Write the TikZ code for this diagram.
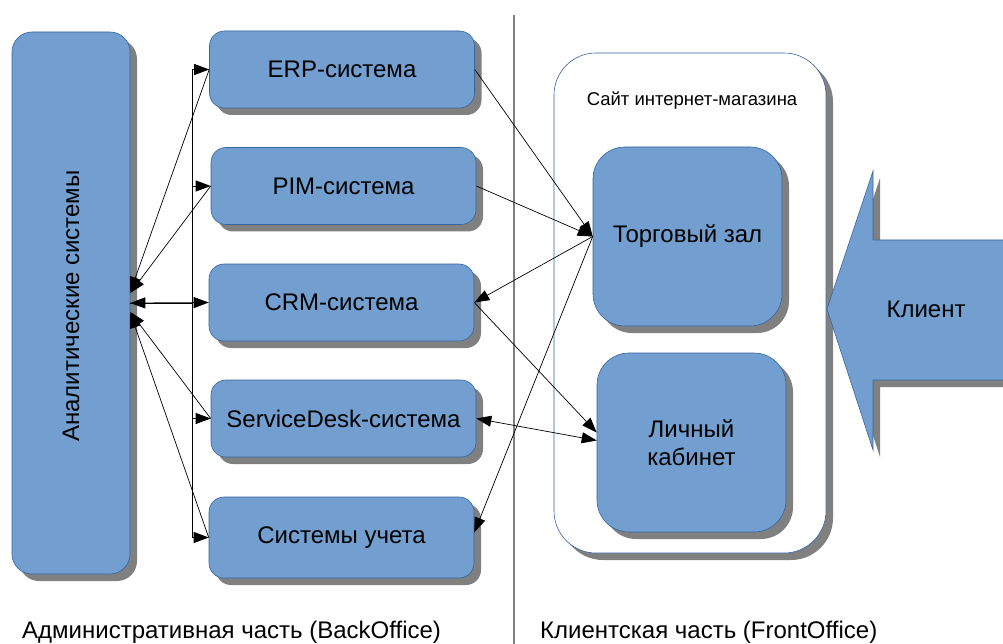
\documentclass[tikz,border=0pt]{standalone}
\usepackage{fontspec}
\setmainfont{Liberation Sans}
\usetikzlibrary{arrows.meta,shadows,calc}

\definecolor{boxblue}{HTML}{729FCF}
\definecolor{boxedge}{HTML}{3465A4}
\definecolor{shadowgray}{HTML}{808080}
\definecolor{dividergray}{HTML}{7F7F7F}

\tikzset{
  shade7/.style={drop shadow={shadow xshift=7pt, shadow yshift=-7pt, opacity=1, fill=shadowgray}},
  bigtext/.style={font=\fontsize{24}{28}\selectfont, text=black},
  sysbox/.style={draw=boxedge, line width=0.6pt, fill=boxblue, shade7,
    rounded corners=15pt, minimum width=265pt, minimum height=77pt,
    inner sep=0pt, align=center, bigtext},
  roombox/.style={sysbox, rounded corners=32pt, minimum width=189pt, minimum height=179pt},
  link/.style={draw=black, line width=0.7pt, -{Triangle[length=15pt,width=11pt]}},
  twoway/.style={draw=black, line width=0.7pt, {Triangle[length=15pt,width=11pt]}-{Triangle[length=15pt,width=11pt]}},
  plain/.style={draw=black, line width=0.7pt},
}

\begin{document}
\begin{tikzpicture}[x=1pt, y=-1pt]
  \useasboundingbox (0,0) rectangle (1003,644);
  \clip (0,0) rectangle (1003,644);
  \fill[white] (0,0) rectangle (1003,644);

  % divider between the two parts
  \draw[dividergray, line width=1.4pt] (514,15) -- (514,644);

  % back office
  \node[sysbox, rounded corners=20pt, minimum width=118pt, minimum height=542pt] (an) at (71,303) {};
  \node[bigtext, rotate=90] (antext) at (71,306) {Аналитические системы};

  \node[sysbox] (erp) at (342,69.5)   {ERP-система};
  \node[sysbox] (pim) at (343.5,186)  {PIM-система};
  \node[sysbox] (crm) at (341.5,302.5){CRM-система};
  \node[sysbox] (sd)  at (343.5,418.5){ServiceDesk-система};
  \node[sysbox, minimum height=81pt] (uch) at (341.5,537.5){Системы учета};

  % front office: web shop container
  \node[draw=boxedge, line width=0.6pt, fill=white, shade7, rounded corners=42pt,
        minimum width=272pt, minimum height=500pt, inner sep=0pt] (site) at (690,303) {};
  \node[font=\fontsize{18.5}{21}\selectfont] (sitelabel) at (692,101) {Сайт интернет-магазина};
  \node[roombox] (torg) at (687.5,236.5) {Торговый зал};
  \node[roombox] (lk)   at (691.5,442.5) {Личный\\кабинет};

  % customer arrow
  \path[fill=boxblue, draw=boxedge, line width=0.6pt, shade7]
    (1015,240) -- (873,240) -- (873,171) -- (827,309) -- (873,450) -- (873,380) -- (1015,380) -- cycle;
  \node[bigtext] (client) at (926,309) {Клиент};

  % bus from the analytics block to every system
  \coordinate (bus) at (192,303);
  \draw[plain] (an.east) -- (bus);
  \foreach \b in {erp,pim,sd,uch} \draw[link] (bus) |- (\b.west);
  \draw[twoway] (an.east) -- (crm.west);

  % systems reporting back to analytics
  \draw[link] (erp.west) -- ($(an.east)+(0,-11)$);
  \draw[link] (pim.west) -- ($(an.east)+(0,-10)$);
  \draw[link] (sd.west)  -- ($(an.east)+(0,9)$);
  \draw[link] (uch.west) -- ($(an.east)+(0,10)$);

  % links with the web shop
  \draw[link] (erp.east) -- (torg.west);
  \draw[link] (pim.east) -- (torg.west);
  \draw[link] (torg.west) -- (crm.east);
  \draw[link] (torg.west) -- ($(uch.east)+(0,-5)$);
  \draw[link] (crm.east) -- ($(lk.west)+(0,-10)$);
  \draw[twoway] (sd.east) -- ($(lk.west)+(0,-2)$);

  % part captions
  \node[font=\fontsize{24}{28}\selectfont, anchor=west, inner sep=0pt] (backcap) at (22,632) {Административная часть (BackOffice)};
  \node[font=\fontsize{24}{28}\selectfont, anchor=west, inner sep=0pt] (frontcap) at (540,632) {Клиентская часть (FrontOffice)};
\end{tikzpicture}
\end{document}
